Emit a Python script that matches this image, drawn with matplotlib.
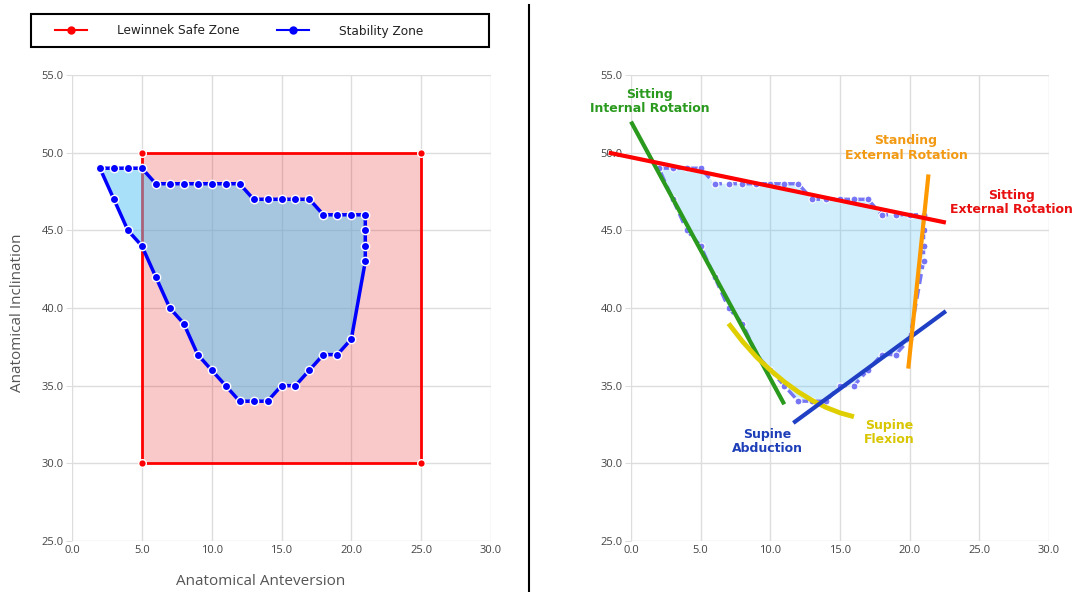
import matplotlib
matplotlib.use("Agg")
import matplotlib.pyplot as plt
from matplotlib.lines import Line2D
from matplotlib.patches import Rectangle

# ---------------- data ----------------
lewinnek_x = [5, 5, 25, 25, 5]
lewinnek_y = [30, 50, 50, 30, 30]

stab_x = [2, 3, 4, 5, 6, 7, 8, 9, 10, 11, 12, 13, 14, 15, 16, 17, 18, 19, 20, 21,
          21, 21, 21, 20, 19, 18, 17, 16, 15, 14, 13, 12, 11, 10, 9, 8, 7, 6, 5, 4, 3, 2]
stab_y = [49, 49, 49, 49, 48, 48, 48, 48, 48, 48, 48, 47, 47, 47, 47, 47, 46, 46, 46, 46,
          45, 44, 43, 38, 37, 37, 36, 35, 35, 34, 34, 34, 35, 36, 37, 39, 40, 42, 44, 45, 47, 49]

sit_ext_x = [-1.6, 22.6]
sit_ext_y = [50.0, 45.5]
sit_int_x = [0.0, 11.0]
sit_int_y = [52.0, 33.8]
stand_ext_x = [19.9, 21.35]
stand_ext_y = [36.1, 48.6]
sup_abd_x = [11.65, 22.6]
sup_abd_y = [32.6, 39.8]
sup_flex_x = [7, 8, 9, 10, 11, 12, 13, 14, 15, 16]
sup_flex_y = [39.0, 37.85, 36.85, 36.0, 35.25, 34.6, 34.05, 33.6, 33.25, 33.0]

ticks_x = [0, 5, 10, 15, 20, 25, 30]
ticks_y = [25, 30, 35, 40, 45, 50, 55]

# ---------------- style ----------------
RED = "#ff0000"
BLUE = "#0000ff"
FILL_BLUE = (85/255, 195/255, 245/255)
GRID = "#dddddd"
TXT = "#444444"

fig = plt.figure(figsize=(10.73, 5.92), dpi=100)
axL = fig.add_axes([72/1073, 1-541/592, 419/1073, 466/592])
axR = fig.add_axes([631/1073, 1-541/592, 418/1073, 466/592])


def style_axes(ax):
    ax.set_xlim(0, 30)
    ax.set_ylim(25, 55)
    ax.set_xticks(ticks_x)
    ax.set_yticks(ticks_y)
    ax.set_xticklabels([f"{t:.1f}" for t in ticks_x], fontfamily="Open Sans", fontsize=8, color=TXT)
    ax.set_yticklabels([f"{t:.1f}" for t in ticks_y], fontfamily="Open Sans", fontsize=8, color=TXT)
    ax.grid(True, color=GRID, linewidth=1)
    ax.set_axisbelow(True)
    for s in ax.spines.values():
        s.set_visible(False)
    ax.tick_params(axis="y", length=4, color=GRID, pad=2)
    ax.tick_params(axis="x", length=0, pad=3)


style_axes(axL)
style_axes(axR)

# ---------------- left plot ----------------
axL.fill(lewinnek_x, lewinnek_y, color="#e60000", alpha=0.21, linewidth=0, zorder=2)
axL.plot(lewinnek_x, lewinnek_y, color=RED, linewidth=2, zorder=3)
axL.plot(lewinnek_x[:-1], lewinnek_y[:-1], linestyle="none", marker="o", markersize=5.5,
         markerfacecolor=RED, markeredgecolor="white", markeredgewidth=1, zorder=3.5,
         clip_on=False)
axL.fill(stab_x, stab_y, color=FILL_BLUE, alpha=0.5, linewidth=0, zorder=4)
axL.plot(stab_x, stab_y, color=BLUE, linewidth=2.5, marker="o", markersize=6,
         markerfacecolor=BLUE, markeredgecolor="white", markeredgewidth=1, zorder=5)

axL.set_xlabel("Anatomical Anteversion", fontfamily="Open Sans", fontsize=11, color="#555555")
axL.set_ylabel("Anatomical Inclination", fontfamily="Open Sans", fontsize=11, color="#555555")
axL.xaxis.set_label_coords(0.451, -0.070)
axL.yaxis.set_label_coords(-0.113, 0.489)

# ---------------- right plot ----------------
axR.fill(stab_x, stab_y, color=FILL_BLUE, alpha=0.27, linewidth=0, zorder=2)
axR.plot(stab_x, stab_y, color="#7676f5", linewidth=2.4, linestyle=(0, (3, 1.5)),
         marker="o", markersize=5, markerfacecolor="#7676f5", markeredgecolor="white",
         markeredgewidth=0.8, zorder=3)

C_GREEN = "#2a9a1e"
C_ORANGE = "#ff9900"
C_RED = "#ff0000"
C_BLUE = "#1f3fc4"
C_YELLOW = "#e0cf00"

axR.plot(sit_int_x, sit_int_y, color=C_GREEN, linewidth=3, zorder=4, clip_on=False, solid_capstyle="butt")
axR.plot(sup_flex_x, sup_flex_y, color=C_YELLOW, linewidth=3.5, zorder=4, clip_on=False,
         solid_capstyle="butt", solid_joinstyle="round")
axR.plot(sup_abd_x, sup_abd_y, color=C_BLUE, linewidth=3, zorder=5, clip_on=False, solid_capstyle="butt")
axR.plot(stand_ext_x, stand_ext_y, color=C_ORANGE, linewidth=3, zorder=5, clip_on=False, solid_capstyle="butt")
axR.plot(sit_ext_x, sit_ext_y, color=C_RED, linewidth=3, zorder=6, clip_on=False, solid_capstyle="butt")

lab_kw = dict(fontfamily="DejaVu Sans", fontweight="bold", fontsize=9, ha="center",
              va="center", linespacing=1.15, clip_on=False, zorder=7)
axR.text(1.36, 53.3, "Sitting\nInternal Rotation", color="#2a9a1e", **lab_kw)
axR.text(19.74, 50.3, "Standing\nExternal Rotation", color="#f39a14", **lab_kw)
axR.text(27.3, 46.8, "Sitting\nExternal Rotation", color="#e81010", **lab_kw)
axR.text(9.76, 31.4, "Supine\nAbduction", color="#1f3fb8", **lab_kw)
axR.text(18.5, 32.0, "Supine\nFlexion", color="#d8c600", **lab_kw)

# ---------------- legend ----------------
handles = [
    Line2D([0], [0], color=RED, linewidth=1.5, marker="o", markersize=5,
           markerfacecolor=RED, markeredgecolor=RED),
    Line2D([0], [0], color=BLUE, linewidth=1.5, marker="o", markersize=5,
           markerfacecolor=BLUE, markeredgecolor=BLUE),
]
leg = fig.legend(handles, ["Lewinnek Safe Zone", "Stability Zone"], loc="center left",
                 bbox_to_anchor=(55/1073, 1-31/592), ncol=2, frameon=False,
                 handlelength=2.65, columnspacing=3.15, handletextpad=2.45,
                 borderpad=0, borderaxespad=0,
                 prop={"family": "DejaVu Sans", "size": 8.7})
for t in leg.get_texts():
    t.set_color("#222222")

fig.add_artist(Rectangle((31/1073, 1-47/592), (489-31)/1073, 33/592, fill=False,
                         edgecolor="black", linewidth=1.5, transform=fig.transFigure))

# vertical separator
fig.add_artist(Line2D([529/1073, 529/1073], [0, 1-5/592], color="black", linewidth=1.5,
                      transform=fig.transFigure))

fig.savefig("out.png", dpi=100)
